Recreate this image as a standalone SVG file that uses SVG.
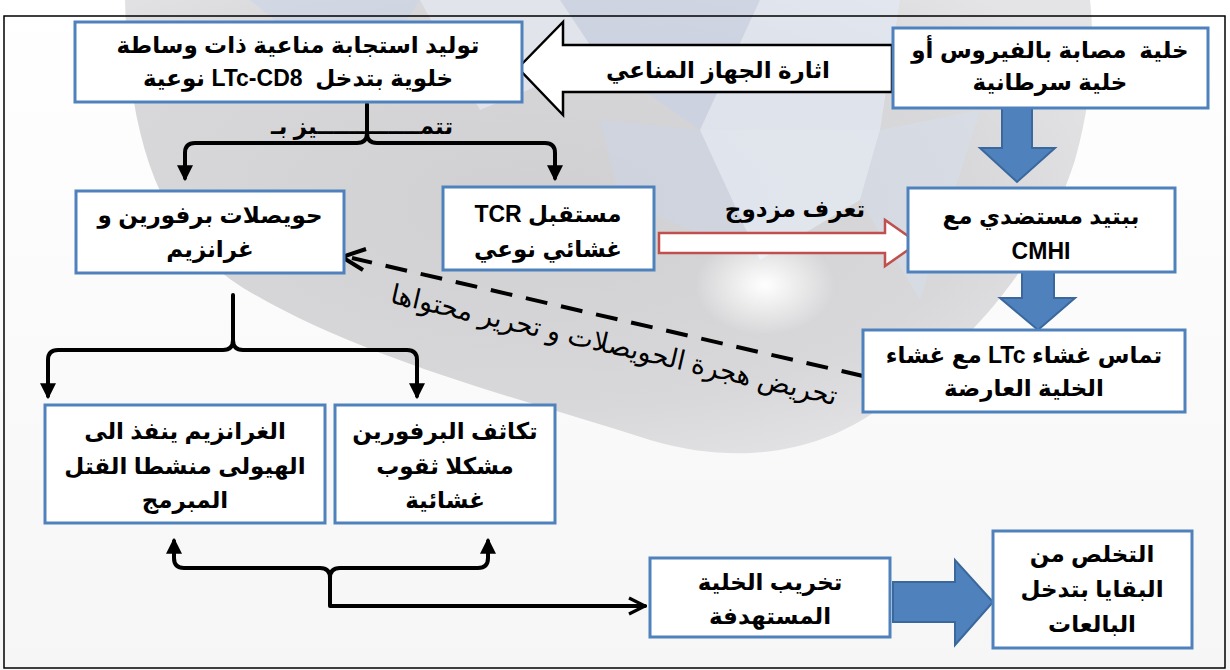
<svg xmlns="http://www.w3.org/2000/svg" width="1230" height="670" viewBox="0 0 1230 670">
<defs>
<style>
.box{fill:#fff;stroke:#4F81BD;stroke-width:3}
.t{font-family:"Liberation Sans","DejaVu Sans",sans-serif;font-weight:bold;font-size:23px;fill:#000;text-anchor:middle}
.pre{white-space:pre}
.con{fill:none;stroke:#000;stroke-width:4;stroke-linecap:round;stroke-linejoin:round}
.blue{fill:#4F81BD;stroke:#3A679C;stroke-width:2}
</style>
<marker id="ah" viewBox="0 0 10 10" refX="8" refY="5" markerWidth="4" markerHeight="4" orient="auto">
<path d="M0,0 L10,5 L0,10 Z" fill="#000"/>
</marker>
<marker id="oa" viewBox="0 0 10 10" refX="9" refY="5" markerWidth="5" markerHeight="5" orient="auto">
<path d="M1,1 L9,5 L1,9" fill="none" stroke="#000" stroke-width="1.6"/>
</marker>
<radialGradient id="gray" cx="0.42" cy="0.45" r="0.65">
<stop offset="0" stop-color="#d0d0d2"/>
<stop offset="0.7" stop-color="#d8d8da"/>
<stop offset="1" stop-color="#e4e4e6"/>
</radialGradient>
<radialGradient id="flare" cx="0.5" cy="0.5" r="0.5">
<stop offset="0" stop-color="#fff" stop-opacity="1"/>
<stop offset="1" stop-color="#fff" stop-opacity="0"/>
</radialGradient>
<linearGradient id="bg" x1="0" y1="0" x2="0" y2="1">
<stop offset="0" stop-color="#ffffff"/>
<stop offset="1" stop-color="#f6f6f6"/>
</linearGradient>
</defs>

<rect x="0" y="0" width="1230" height="670" fill="url(#bg)"/>
<g id="watermark">
<path d="M125,0 C128,140 160,240 250,292 C370,362 520,398 650,440 C745,468 820,448 870,415 C960,355 1040,270 1075,160 C1092,100 1095,45 1090,0 Z" fill="url(#gray)"/>
<polygon points="250,0 420,0 360,90" fill="#c9d5ea" opacity="0.55"/>
<polygon points="560,0 760,0 700,130 600,60" fill="#c3d0e8" opacity="0.5"/>
<polygon points="760,0 900,0 880,130 700,130" fill="#e2e8f4" opacity="0.7"/>
<polygon points="600,120 700,130 760,260 620,200" fill="#c9d5eb" opacity="0.45"/>
<polygon points="700,130 880,130 860,200 760,260" fill="#e6ecf6" opacity="0.7"/>
<polygon points="420,0 560,0 600,60 480,110" fill="#e8edf6" opacity="0.6"/>
<polygon points="880,130 980,110 920,300 860,200" fill="#d5dfef" opacity="0.45"/>
<ellipse cx="765" cy="285" rx="70" ry="50" fill="url(#flare)"/>
</g>
<rect x="4" y="16" width="1221" height="652" fill="none" stroke="#000" stroke-width="1.5"/>

<g id="connectors">
<path class="con" d="M367,104 L367,133 Q367,143 357,143 L195,143 Q185,143 185,153 L185,178" marker-end="url(#ah)"/>
<path class="con" d="M367,133 Q367,143 377,143 L545,143 Q555,143 555,153 L555,178" marker-end="url(#ah)"/>
<path class="con" d="M233,295 L233,340 Q233,350 223,350 L58,350 Q48,350 48,360 L48,396" marker-end="url(#ah)"/>
<path class="con" d="M233,340 Q233,350 243,350 L407,350 Q417,350 417,360 L417,396" marker-end="url(#ah)"/>
<path class="con" d="M330,596 L330,578 Q330,568 320,568 L184,568 Q174,568 174,558 L174,541" marker-end="url(#ah)"/>
<path class="con" d="M330,578 Q330,568 340,568 L478,568 Q488,568 488,558 L488,541" marker-end="url(#ah)"/>
<path class="con" d="M330,578 L330,606 L645,606" marker-end="url(#oa)"/>
<line x1="863" y1="376" x2="352" y2="258" stroke="#000" stroke-width="4" stroke-dasharray="22 14"/>
<polyline points="366,249 342,257 363,270" fill="none" stroke="#000" stroke-width="4" stroke-linejoin="miter"/>
<text class="t" transform="translate(612,354) rotate(13)" style="font-weight:normal;font-size:27px" direction="rtl">تحريض هجرة الحويصلات و تحرير محتواها</text>
<polygon points="518,68 563,22 563,45 892,45 892,92 563,92 563,115" fill="#fff" stroke="#000" stroke-width="2.5"/>
<text class="t" x="718" y="78" direction="rtl">اثارة الجهاز المناعي</text>
<polygon points="659,233 885,233 885,220 918,243 885,266 885,253 659,253" fill="#fff" stroke="#C0504D" stroke-width="2.5"/>
<text class="t" x="795" y="217" direction="rtl">تعرف مزدوج</text>
<text class="t" x="362" y="134" direction="rtl">تتمـــــــــــــيز بـ</text>
<polygon class="blue" points="1002,108 1032,108 1032,148 1055,148 1017,182 980,148 1002,148"/>
<polygon class="blue" points="1022,272 1054,272 1054,298 1075,298 1038,330 1000,298 1022,298"/>
<polygon class="blue" points="893,582 955,582 955,560 993,602 955,645 955,622 893,622"/>
</g>

<g id="n1"><rect class="box" x="75" y="22" width="447" height="80"/>
<text class="t" x="298" y="53" direction="rtl">توليد استجابة مناعية ذات وساطة</text>
<text class="t pre" x="298" y="86" direction="rtl">خلوية بتدخل  LTc-CD8 نوعية</text></g>

<g id="n2"><rect class="box" x="893" y="28" width="315" height="80"/>
<text class="t pre" x="1050" y="58" direction="rtl">خلية  مصابة بالفيروس أو</text>
<text class="t" x="1050" y="90" direction="rtl">خلية سرطانية</text></g>

<g id="n3"><rect class="box" x="908" y="188" width="267" height="84"/>
<text class="t" x="1041" y="224" direction="rtl">ببتيد مستضدي مع</text>
<text class="t" x="1041" y="259">CMHI</text></g>

<g id="n4"><rect class="box" x="443" y="187" width="211" height="83"/>
<text class="t" x="548" y="222" direction="rtl">مستقبل TCR</text>
<text class="t" x="548" y="257" direction="rtl">غشائي نوعي</text></g>

<g id="n5"><rect class="box" x="76" y="191" width="268" height="82"/>
<text class="t" x="210" y="223" direction="rtl">حويصلات برفورين و</text>
<text class="t" x="210" y="257" direction="rtl">غرانزيم</text></g>

<g id="n6"><rect class="box" x="863" y="330" width="322" height="82"/>
<text class="t" x="1024" y="363" direction="rtl">تماس غشاء LTc مع غشاء</text>
<text class="t" x="1024" y="396" direction="rtl">الخلية العارضة</text></g>

<g id="n7"><rect class="box" x="45" y="405" width="280" height="118"/>
<text class="t" x="185" y="439" direction="rtl">الغرانزيم ينفذ الى</text>
<text class="t" x="185" y="474" direction="rtl">الهيولى منشطا القتل</text>
<text class="t" x="185" y="508" direction="rtl">المبرمج</text></g>

<g id="n8"><rect class="box" x="335" y="405" width="220" height="118"/>
<text class="t" x="445" y="439" direction="rtl">تكاثف البرفورين</text>
<text class="t" x="445" y="474" direction="rtl">مشكلا ثقوب</text>
<text class="t" x="445" y="508" direction="rtl">غشائية</text></g>

<g id="n9"><rect class="box" x="650" y="558" width="240" height="79"/>
<text class="t" x="770" y="590" direction="rtl">تخريب الخلية</text>
<text class="t" x="770" y="624" direction="rtl">المستهدفة</text></g>

<g id="n10"><rect class="box" x="993" y="531" width="199" height="117"/>
<text class="t" x="1092" y="562" direction="rtl">التخلص من</text>
<text class="t" x="1092" y="597" direction="rtl">البقايا بتدخل</text>
<text class="t" x="1092" y="632" direction="rtl">البالعات</text></g>
</svg>
